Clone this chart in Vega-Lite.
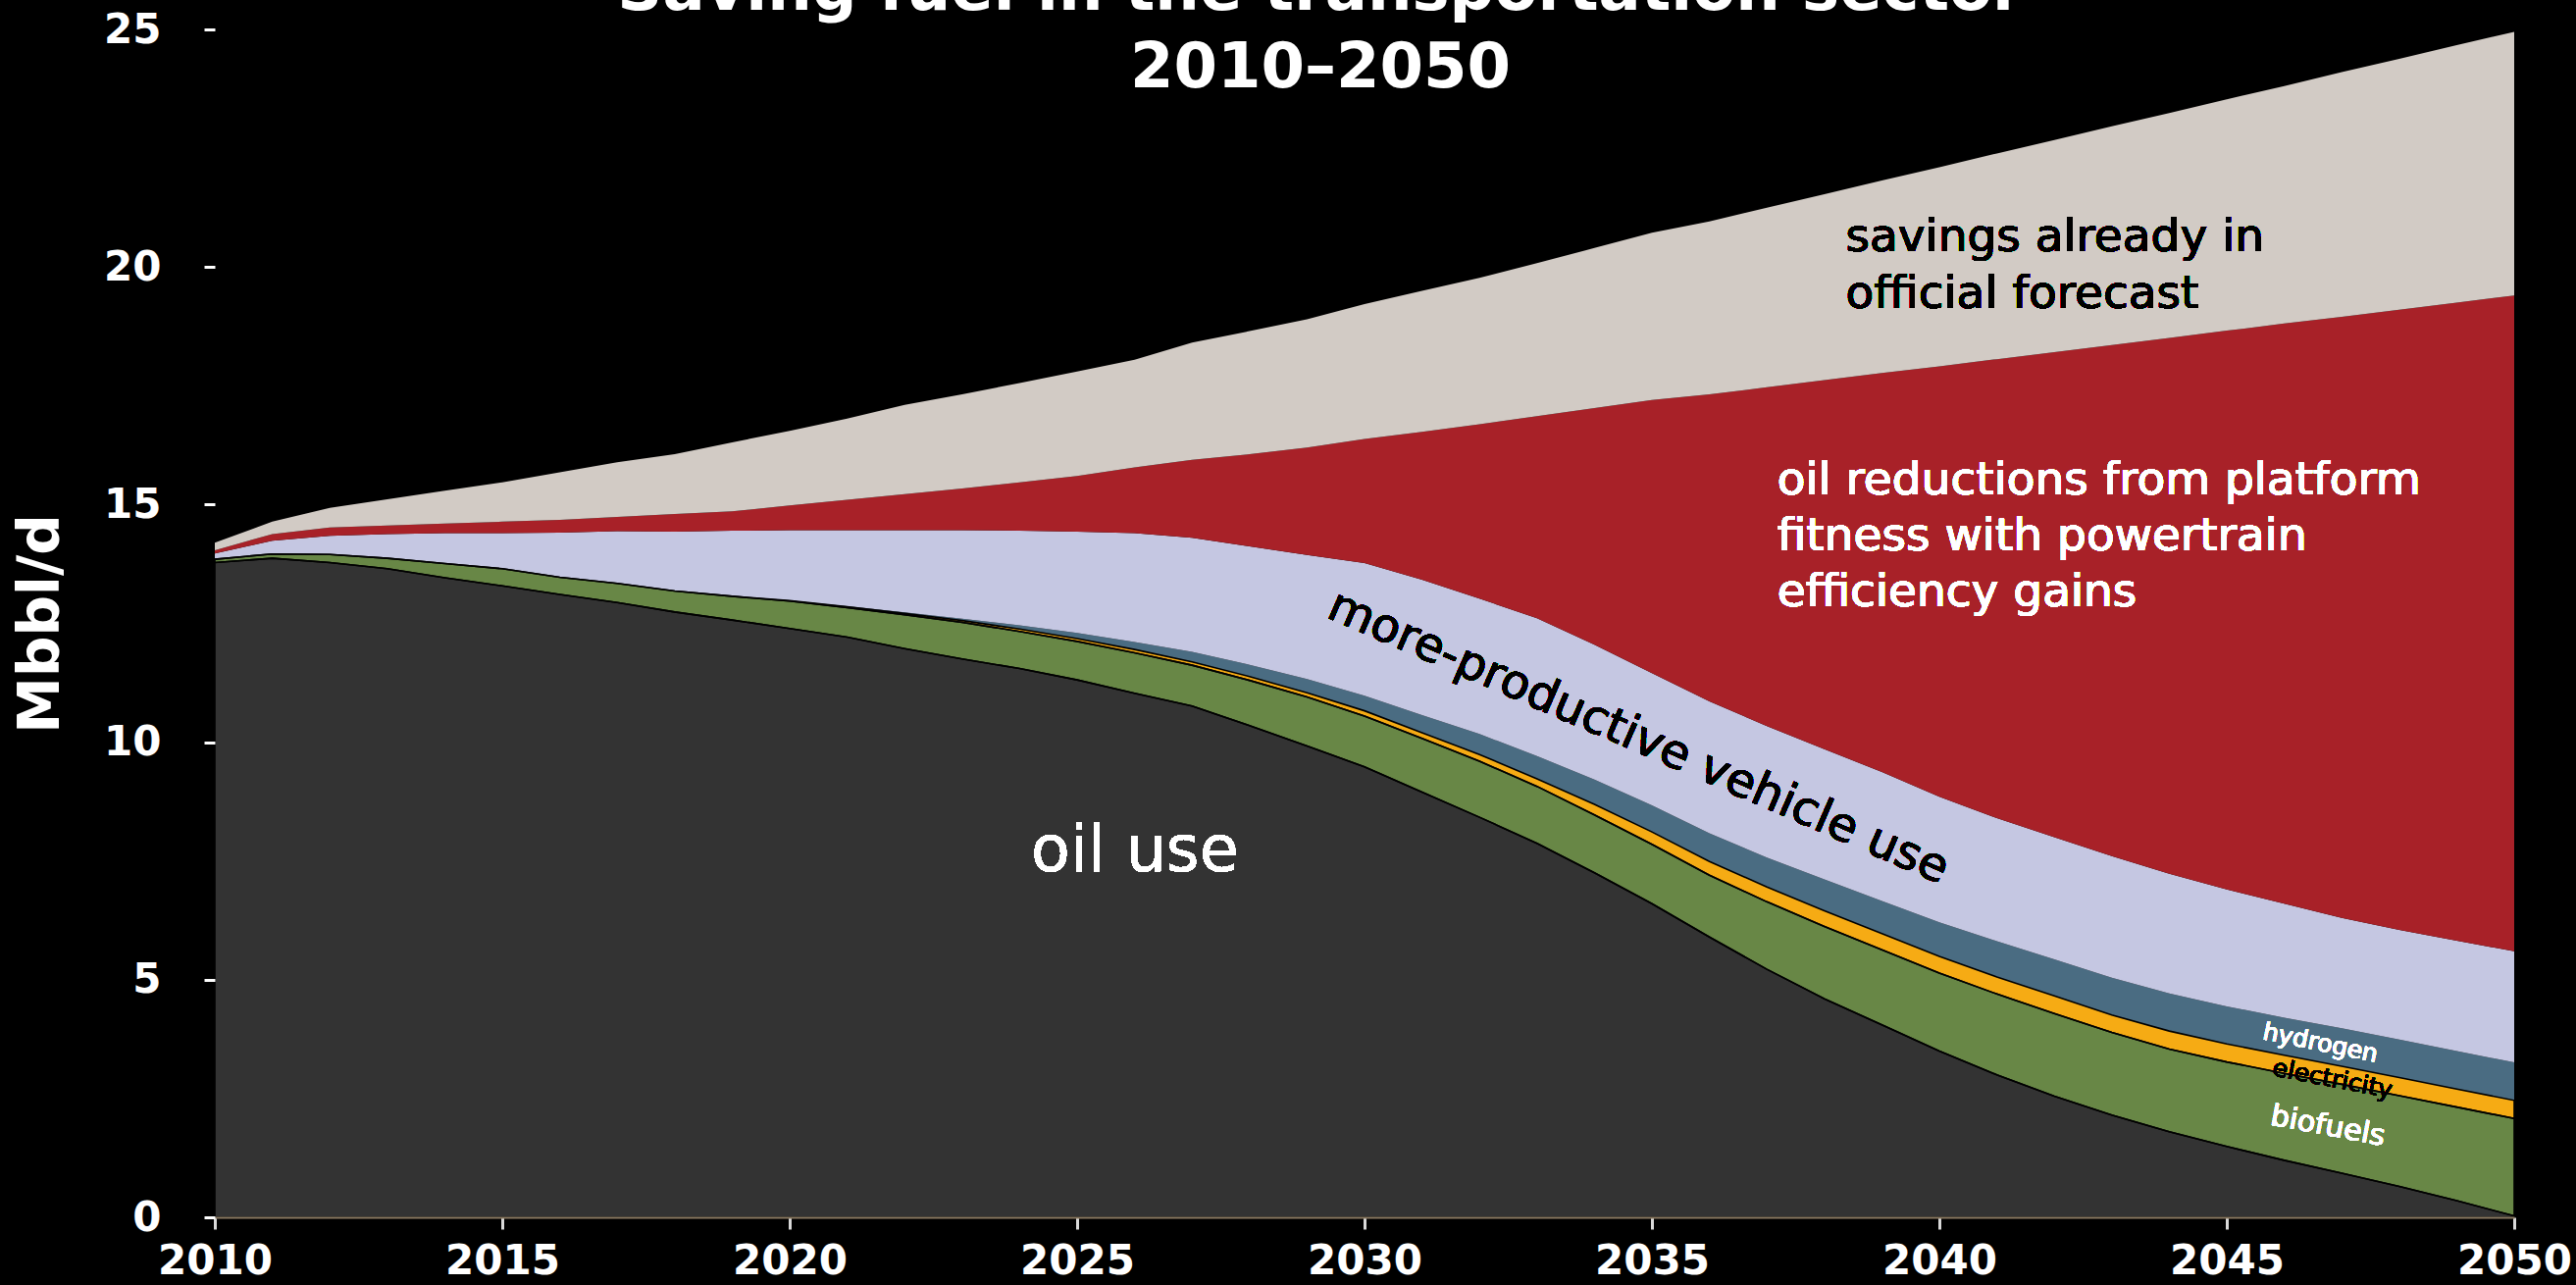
{
"$schema": "https://vega.github.io/schema/vega-lite/v6.json",
"width": 2344, "height": 1211,
"autosize": {"type": "none"},
"padding": {"left": 219, "top": 30, "right": 63, "bottom": 69},
"background": "black",
"title": {"text": ["Saving fuel in the transportation sector", "2010–2050"], "color": "white", "font": "DejaVu Sans", "fontWeight": "bold", "fontSize": 64, "lineHeight": 79, "anchor": "middle", "dx": -45, "baseline": "alphabetic", "offset": -144},
"config": {"view": {"stroke": null}},
"data": {"values": [
{"year":2010,"series":"oil","rank":1,"value":13.78},{"year":2010,"series":"biofuels","rank":2,"value":0.07},{"year":2010,"series":"electricity","rank":3,"value":0},{"year":2010,"series":"hydrogen","rank":4,"value":0},{"year":2010,"series":"productivity","rank":5,"value":0.12},{"year":2010,"series":"efficiency","rank":6,"value":0.07},{"year":2010,"series":"forecast","rank":7,"value":0.16},
{"year":2011,"series":"oil","rank":1,"value":13.87},{"year":2011,"series":"biofuels","rank":2,"value":0.09},{"year":2011,"series":"electricity","rank":3,"value":0},{"year":2011,"series":"hydrogen","rank":4,"value":0},{"year":2011,"series":"productivity","rank":5,"value":0.28},{"year":2011,"series":"efficiency","rank":6,"value":0.14},{"year":2011,"series":"forecast","rank":7,"value":0.26},
{"year":2012,"series":"oil","rank":1,"value":13.78},{"year":2012,"series":"biofuels","rank":2,"value":0.17},{"year":2012,"series":"electricity","rank":3,"value":0},{"year":2012,"series":"hydrogen","rank":4,"value":0},{"year":2012,"series":"productivity","rank":5,"value":0.39},{"year":2012,"series":"efficiency","rank":6,"value":0.18},{"year":2012,"series":"forecast","rank":7,"value":0.41},
{"year":2013,"series":"oil","rank":1,"value":13.65},{"year":2013,"series":"biofuels","rank":2,"value":0.22},{"year":2013,"series":"electricity","rank":3,"value":0},{"year":2013,"series":"hydrogen","rank":4,"value":0},{"year":2013,"series":"productivity","rank":5,"value":0.51},{"year":2013,"series":"efficiency","rank":6,"value":0.18},{"year":2013,"series":"forecast","rank":7,"value":0.55},
{"year":2014,"series":"oil","rank":1,"value":13.46},{"year":2014,"series":"biofuels","rank":2,"value":0.30},{"year":2014,"series":"electricity","rank":3,"value":0},{"year":2014,"series":"hydrogen","rank":4,"value":0},{"year":2014,"series":"productivity","rank":5,"value":0.64},{"year":2014,"series":"efficiency","rank":6,"value":0.20},{"year":2014,"series":"forecast","rank":7,"value":0.69},
{"year":2015,"series":"oil","rank":1,"value":13.29},{"year":2015,"series":"biofuels","rank":2,"value":0.36},{"year":2015,"series":"electricity","rank":3,"value":0},{"year":2015,"series":"hydrogen","rank":4,"value":0},{"year":2015,"series":"productivity","rank":5,"value":0.75},{"year":2015,"series":"efficiency","rank":6,"value":0.24},{"year":2015,"series":"forecast","rank":7,"value":0.83},
{"year":2016,"series":"oil","rank":1,"value":13.11},{"year":2016,"series":"biofuels","rank":2,"value":0.36},{"year":2016,"series":"electricity","rank":3,"value":0},{"year":2016,"series":"hydrogen","rank":4,"value":0},{"year":2016,"series":"productivity","rank":5,"value":0.94},{"year":2016,"series":"efficiency","rank":6,"value":0.27},{"year":2016,"series":"forecast","rank":7,"value":1.00},
{"year":2017,"series":"oil","rank":1,"value":12.94},{"year":2017,"series":"biofuels","rank":2,"value":0.40},{"year":2017,"series":"electricity","rank":3,"value":0},{"year":2017,"series":"hydrogen","rank":4,"value":0},{"year":2017,"series":"productivity","rank":5,"value":1.10},{"year":2017,"series":"efficiency","rank":6,"value":0.30},{"year":2017,"series":"forecast","rank":7,"value":1.15},
{"year":2018,"series":"oil","rank":1,"value":12.74},{"year":2018,"series":"biofuels","rank":2,"value":0.44},{"year":2018,"series":"electricity","rank":3,"value":0},{"year":2018,"series":"hydrogen","rank":4,"value":0},{"year":2018,"series":"productivity","rank":5,"value":1.25},{"year":2018,"series":"efficiency","rank":6,"value":0.37},{"year":2018,"series":"forecast","rank":7,"value":1.26},
{"year":2019,"series":"oil","rank":1,"value":12.57},{"year":2019,"series":"biofuels","rank":2,"value":0.50},{"year":2019,"series":"electricity","rank":3,"value":0},{"year":2019,"series":"hydrogen","rank":4,"value":0},{"year":2019,"series":"productivity","rank":5,"value":1.38},{"year":2019,"series":"efficiency","rank":6,"value":0.41},{"year":2019,"series":"forecast","rank":7,"value":1.45},
{"year":2020,"series":"oil","rank":1,"value":12.39},{"year":2020,"series":"biofuels","rank":2,"value":0.58},{"year":2020,"series":"electricity","rank":3,"value":0.01},{"year":2020,"series":"hydrogen","rank":4,"value":0},{"year":2020,"series":"productivity","rank":5,"value":1.48},{"year":2020,"series":"efficiency","rank":6,"value":0.52},{"year":2020,"series":"forecast","rank":7,"value":1.57},
{"year":2021,"series":"oil","rank":1,"value":12.21},{"year":2021,"series":"biofuels","rank":2,"value":0.62},{"year":2021,"series":"electricity","rank":3,"value":0.02},{"year":2021,"series":"hydrogen","rank":4,"value":0.01},{"year":2021,"series":"productivity","rank":5,"value":1.60},{"year":2021,"series":"efficiency","rank":6,"value":0.64},{"year":2021,"series":"forecast","rank":7,"value":1.71},
{"year":2022,"series":"oil","rank":1,"value":11.97},{"year":2022,"series":"biofuels","rank":2,"value":0.71},{"year":2022,"series":"electricity","rank":3,"value":0.03},{"year":2022,"series":"hydrogen","rank":4,"value":0.02},{"year":2022,"series":"productivity","rank":5,"value":1.73},{"year":2022,"series":"efficiency","rank":6,"value":0.76},{"year":2022,"series":"forecast","rank":7,"value":1.88},
{"year":2023,"series":"oil","rank":1,"value":11.75},{"year":2023,"series":"biofuels","rank":2,"value":0.77},{"year":2023,"series":"electricity","rank":3,"value":0.04},{"year":2023,"series":"hydrogen","rank":4,"value":0.04},{"year":2023,"series":"productivity","rank":5,"value":1.86},{"year":2023,"series":"efficiency","rank":6,"value":0.88},{"year":2023,"series":"forecast","rank":7,"value":1.98},
{"year":2024,"series":"oil","rank":1,"value":11.55},{"year":2024,"series":"biofuels","rank":2,"value":0.78},{"year":2024,"series":"electricity","rank":3,"value":0.05},{"year":2024,"series":"hydrogen","rank":4,"value":0.08},{"year":2024,"series":"productivity","rank":5,"value":1.99},{"year":2024,"series":"efficiency","rank":6,"value":1.02},{"year":2024,"series":"forecast","rank":7,"value":2.09},
{"year":2025,"series":"oil","rank":1,"value":11.31},{"year":2025,"series":"biofuels","rank":2,"value":0.81},{"year":2025,"series":"electricity","rank":3,"value":0.06},{"year":2025,"series":"hydrogen","rank":4,"value":0.12},{"year":2025,"series":"productivity","rank":5,"value":2.13},{"year":2025,"series":"efficiency","rank":6,"value":1.17},{"year":2025,"series":"forecast","rank":7,"value":2.20},
{"year":2026,"series":"oil","rank":1,"value":11.03},{"year":2026,"series":"biofuels","rank":2,"value":0.85},{"year":2026,"series":"electricity","rank":3,"value":0.07},{"year":2026,"series":"hydrogen","rank":4,"value":0.16},{"year":2026,"series":"productivity","rank":5,"value":2.29},{"year":2026,"series":"efficiency","rank":6,"value":1.38},{"year":2026,"series":"forecast","rank":7,"value":2.27},
{"year":2027,"series":"oil","rank":1,"value":10.76},{"year":2027,"series":"biofuels","rank":2,"value":0.86},{"year":2027,"series":"electricity","rank":3,"value":0.07},{"year":2027,"series":"hydrogen","rank":4,"value":0.21},{"year":2027,"series":"productivity","rank":5,"value":2.40},{"year":2027,"series":"efficiency","rank":6,"value":1.64},{"year":2027,"series":"forecast","rank":7,"value":2.47},
{"year":2028,"series":"oil","rank":1,"value":10.35},{"year":2028,"series":"biofuels","rank":2,"value":0.95},{"year":2028,"series":"electricity","rank":3,"value":0.08},{"year":2028,"series":"hydrogen","rank":4,"value":0.25},{"year":2028,"series":"productivity","rank":5,"value":2.49},{"year":2028,"series":"efficiency","rank":6,"value":1.94},{"year":2028,"series":"forecast","rank":7,"value":2.59},
{"year":2029,"series":"oil","rank":1,"value":9.92},{"year":2029,"series":"biofuels","rank":2,"value":1.03},{"year":2029,"series":"electricity","rank":3,"value":0.09},{"year":2029,"series":"hydrogen","rank":4,"value":0.29},{"year":2029,"series":"productivity","rank":5,"value":2.61},{"year":2029,"series":"efficiency","rank":6,"value":2.26},{"year":2029,"series":"forecast","rank":7,"value":2.70},
{"year":2030,"series":"oil","rank":1,"value":9.48},{"year":2030,"series":"biofuels","rank":2,"value":1.07},{"year":2030,"series":"electricity","rank":3,"value":0.11},{"year":2030,"series":"hydrogen","rank":4,"value":0.32},{"year":2030,"series":"productivity","rank":5,"value":2.79},{"year":2030,"series":"efficiency","rank":6,"value":2.61},{"year":2030,"series":"forecast","rank":7,"value":2.84},
{"year":2031,"series":"oil","rank":1,"value":8.95},{"year":2031,"series":"biofuels","rank":2,"value":1.13},{"year":2031,"series":"electricity","rank":3,"value":0.12},{"year":2031,"series":"hydrogen","rank":4,"value":0.37},{"year":2031,"series":"productivity","rank":5,"value":2.85},{"year":2031,"series":"efficiency","rank":6,"value":3.11},{"year":2031,"series":"forecast","rank":7,"value":2.97},
{"year":2032,"series":"oil","rank":1,"value":8.42},{"year":2032,"series":"biofuels","rank":2,"value":1.18},{"year":2032,"series":"electricity","rank":3,"value":0.14},{"year":2032,"series":"hydrogen","rank":4,"value":0.43},{"year":2032,"series":"productivity","rank":5,"value":2.85},{"year":2032,"series":"efficiency","rank":6,"value":3.67},{"year":2032,"series":"forecast","rank":7,"value":3.08},
{"year":2033,"series":"oil","rank":1,"value":7.87},{"year":2033,"series":"biofuels","rank":2,"value":1.20},{"year":2033,"series":"electricity","rank":3,"value":0.16},{"year":2033,"series":"hydrogen","rank":4,"value":0.48},{"year":2033,"series":"productivity","rank":5,"value":2.90},{"year":2033,"series":"efficiency","rank":6,"value":4.25},{"year":2033,"series":"forecast","rank":7,"value":3.22},
{"year":2034,"series":"oil","rank":1,"value":7.25},{"year":2034,"series":"biofuels","rank":2,"value":1.22},{"year":2034,"series":"electricity","rank":3,"value":0.22},{"year":2034,"series":"hydrogen","rank":4,"value":0.52},{"year":2034,"series":"productivity","rank":5,"value":2.84},{"year":2034,"series":"efficiency","rank":6,"value":4.98},{"year":2034,"series":"forecast","rank":7,"value":3.37},
{"year":2035,"series":"oil","rank":1,"value":6.60},{"year":2035,"series":"biofuels","rank":2,"value":1.25},{"year":2035,"series":"electricity","rank":3,"value":0.26},{"year":2035,"series":"hydrogen","rank":4,"value":0.56},{"year":2035,"series":"productivity","rank":5,"value":2.78},{"year":2035,"series":"efficiency","rank":6,"value":5.75},{"year":2035,"series":"forecast","rank":7,"value":3.52},
{"year":2036,"series":"oil","rank":1,"value":5.90},{"year":2036,"series":"biofuels","rank":2,"value":1.30},{"year":2036,"series":"electricity","rank":3,"value":0.29},{"year":2036,"series":"hydrogen","rank":4,"value":0.59},{"year":2036,"series":"productivity","rank":5,"value":2.78},{"year":2036,"series":"efficiency","rank":6,"value":6.46},{"year":2036,"series":"forecast","rank":7,"value":3.64},
{"year":2037,"series":"oil","rank":1,"value":5.22},{"year":2037,"series":"biofuels","rank":2,"value":1.42},{"year":2037,"series":"electricity","rank":3,"value":0.31},{"year":2037,"series":"hydrogen","rank":4,"value":0.62},{"year":2037,"series":"productivity","rank":5,"value":2.77},{"year":2037,"series":"efficiency","rank":6,"value":7.13},{"year":2037,"series":"forecast","rank":7,"value":3.78},
{"year":2038,"series":"oil","rank":1,"value":4.60},{"year":2038,"series":"biofuels","rank":2,"value":1.52},{"year":2038,"series":"electricity","rank":3,"value":0.33},{"year":2038,"series":"hydrogen","rank":4,"value":0.66},{"year":2038,"series":"productivity","rank":5,"value":2.74},{"year":2038,"series":"efficiency","rank":6,"value":7.77},{"year":2038,"series":"forecast","rank":7,"value":3.91},
{"year":2039,"series":"oil","rank":1,"value":4.05},{"year":2039,"series":"biofuels","rank":2,"value":1.58},{"year":2039,"series":"electricity","rank":3,"value":0.34},{"year":2039,"series":"hydrogen","rank":4,"value":0.69},{"year":2039,"series":"productivity","rank":5,"value":2.71},{"year":2039,"series":"efficiency","rank":6,"value":8.40},{"year":2039,"series":"forecast","rank":7,"value":4.05},
{"year":2040,"series":"oil","rank":1,"value":3.50},{"year":2040,"series":"biofuels","rank":2,"value":1.64},{"year":2040,"series":"electricity","rank":3,"value":0.35},{"year":2040,"series":"hydrogen","rank":4,"value":0.72},{"year":2040,"series":"productivity","rank":5,"value":2.64},{"year":2040,"series":"efficiency","rank":6,"value":9.06},{"year":2040,"series":"forecast","rank":7,"value":4.19},
{"year":2041,"series":"oil","rank":1,"value":3.00},{"year":2041,"series":"biofuels","rank":2,"value":1.70},{"year":2041,"series":"electricity","rank":3,"value":0.36},{"year":2041,"series":"hydrogen","rank":4,"value":0.75},{"year":2041,"series":"productivity","rank":5,"value":2.59},{"year":2041,"series":"efficiency","rank":6,"value":9.66},{"year":2041,"series":"forecast","rank":7,"value":4.33},
{"year":2042,"series":"oil","rank":1,"value":2.55},{"year":2042,"series":"biofuels","rank":2,"value":1.74},{"year":2042,"series":"electricity","rank":3,"value":0.37},{"year":2042,"series":"hydrogen","rank":4,"value":0.77},{"year":2042,"series":"productivity","rank":5,"value":2.57},{"year":2042,"series":"efficiency","rank":6,"value":10.21},{"year":2042,"series":"forecast","rank":7,"value":4.46},
{"year":2043,"series":"oil","rank":1,"value":2.15},{"year":2043,"series":"biofuels","rank":2,"value":1.74},{"year":2043,"series":"electricity","rank":3,"value":0.37},{"year":2043,"series":"hydrogen","rank":4,"value":0.78},{"year":2043,"series":"productivity","rank":5,"value":2.56},{"year":2043,"series":"efficiency","rank":6,"value":10.76},{"year":2043,"series":"forecast","rank":7,"value":4.60},
{"year":2044,"series":"oil","rank":1,"value":1.80},{"year":2044,"series":"biofuels","rank":2,"value":1.74},{"year":2044,"series":"electricity","rank":3,"value":0.38},{"year":2044,"series":"hydrogen","rank":4,"value":0.79},{"year":2044,"series":"productivity","rank":5,"value":2.52},{"year":2044,"series":"efficiency","rank":6,"value":11.28},{"year":2044,"series":"forecast","rank":7,"value":4.73},
{"year":2045,"series":"oil","rank":1,"value":1.49},{"year":2045,"series":"biofuels","rank":2,"value":1.78},{"year":2045,"series":"electricity","rank":3,"value":0.38},{"year":2045,"series":"hydrogen","rank":4,"value":0.79},{"year":2045,"series":"productivity","rank":5,"value":2.46},{"year":2045,"series":"efficiency","rank":6,"value":11.76},{"year":2045,"series":"forecast","rank":7,"value":4.87},
{"year":2046,"series":"oil","rank":1,"value":1.20},{"year":2046,"series":"biofuels","rank":2,"value":1.83},{"year":2046,"series":"electricity","rank":3,"value":0.38},{"year":2046,"series":"hydrogen","rank":4,"value":0.79},{"year":2046,"series":"productivity","rank":5,"value":2.40},{"year":2046,"series":"efficiency","rank":6,"value":12.21},{"year":2046,"series":"forecast","rank":7,"value":5.00},
{"year":2047,"series":"oil","rank":1,"value":0.93},{"year":2047,"series":"biofuels","rank":2,"value":1.87},{"year":2047,"series":"electricity","rank":3,"value":0.38},{"year":2047,"series":"hydrogen","rank":4,"value":0.80},{"year":2047,"series":"productivity","rank":5,"value":2.32},{"year":2047,"series":"efficiency","rank":6,"value":12.65},{"year":2047,"series":"forecast","rank":7,"value":5.15},
{"year":2048,"series":"oil","rank":1,"value":0.65},{"year":2048,"series":"biofuels","rank":2,"value":1.91},{"year":2048,"series":"electricity","rank":3,"value":0.38},{"year":2048,"series":"hydrogen","rank":4,"value":0.80},{"year":2048,"series":"productivity","rank":5,"value":2.31},{"year":2048,"series":"efficiency","rank":6,"value":13.05},{"year":2048,"series":"forecast","rank":7,"value":5.28},
{"year":2049,"series":"oil","rank":1,"value":0.35},{"year":2049,"series":"biofuels","rank":2,"value":1.97},{"year":2049,"series":"electricity","rank":3,"value":0.38},{"year":2049,"series":"hydrogen","rank":4,"value":0.80},{"year":2049,"series":"productivity","rank":5,"value":2.32},{"year":2049,"series":"efficiency","rank":6,"value":13.43},{"year":2049,"series":"forecast","rank":7,"value":5.42},
{"year":2050,"series":"oil","rank":1,"value":0.03},{"year":2050,"series":"biofuels","rank":2,"value":2.05},{"year":2050,"series":"electricity","rank":3,"value":0.38},{"year":2050,"series":"hydrogen","rank":4,"value":0.80},{"year":2050,"series":"productivity","rank":5,"value":2.34},{"year":2050,"series":"efficiency","rank":6,"value":13.80},{"year":2050,"series":"forecast","rank":7,"value":5.55}
]},
"layer": [
{"mark": {"type": "area"},
 "encoding": {
  "x": {"field": "year", "type": "quantitative", "scale": {"domain": [2010, 2050], "nice": false},
        "axis": {"title": null, "values": [2010,2015,2020,2025,2030,2035,2040,2045,2050], "format": "d", "labelFont": "DejaVu Sans", "labelFontWeight": "bold", "labelFontSize": 42, "labelColor": "white", "labelFlush": false, "labelOverlap": false, "labelPadding": 12, "domainColor": "#8a7a62", "domainWidth": 2, "tickColor": "#d9d9d9", "tickWidth": 3, "tickSize": 12, "grid": false, "zindex": 1}},
  "y": {"field": "value", "type": "quantitative", "stack": "zero", "scale": {"domain": [0, 25], "nice": false},
        "axis": {"title": "Mbbl/d", "titleFont": "DejaVu Sans", "titleFontWeight": "bold", "titleFontSize": 58, "titleColor": "white", "titlePadding": 34, "values": [0,5,10,15,20,25], "labelFont": "DejaVu Sans", "labelFontWeight": "bold", "labelFontSize": 42, "labelColor": "white", "labelPadding": 44, "domain": false, "tickColor": "white", "tickWidth": 3, "tickSize": 11, "grid": false, "zindex": 1}},
  "color": {"field": "series", "type": "nominal", "legend": null,
            "scale": {"domain": ["oil","biofuels","electricity","hydrogen","productivity","efficiency","forecast"], "range": ["#333333","#688746","#f6ab14","#4a6c82","#c5c7e2","#a82128","#d2cbc5"]}},
  "order": {"field": "rank", "type": "quantitative"}
 }},
{"transform": [{"filter": "datum.rank <= 3"}],
 "mark": {"type": "area", "fillOpacity": 0, "stroke": "black", "strokeWidth": 1.6},
 "encoding": {
  "x": {"field": "year", "type": "quantitative"},
  "y": {"field": "value", "type": "quantitative", "stack": "zero"},
  "detail": {"field": "series", "type": "nominal"},
  "order": {"field": "rank", "type": "quantitative"}
 }},
{"mark": {"type": "text", "text": ["savings already in", "official forecast"], "align": "left", "baseline": "alphabetic", "font": "DejaVu Sans", "fontSize": 47, "lineHeight": 58, "color": "black"},
 "encoding": {"x": {"datum": 2038.37, "type": "quantitative"}, "y": {"datum": 20.34, "type": "quantitative"}}},
{"mark": {"type": "text", "text": ["oil reductions from platform", "fitness with powertrain", "efficiency gains"], "align": "left", "baseline": "alphabetic", "font": "DejaVu Sans", "fontSize": 47, "lineHeight": 57, "color": "white"},
 "encoding": {"x": {"datum": 2037.18, "type": "quantitative"}, "y": {"datum": 15.21, "type": "quantitative"}}},
{"mark": {"type": "text", "text": "oil use", "align": "left", "baseline": "alphabetic", "font": "DejaVu Sans", "fontSize": 65, "color": "white"},
 "encoding": {"x": {"datum": 2024.2, "type": "quantitative"}, "y": {"datum": 7.29, "type": "quantitative"}}},
{"mark": {"type": "text", "text": "more-productive vehicle use", "align": "center", "baseline": "middle", "angle": 23.5, "font": "DejaVu Sans", "fontSize": 48, "color": "black"},
 "encoding": {"x": {"datum": 2034.76, "type": "quantitative"}, "y": {"datum": 10.09, "type": "quantitative"}}},
{"mark": {"type": "text", "text": "hydrogen", "align": "center", "baseline": "middle", "angle": 11.5, "font": "DejaVu Sans", "fontSize": 25, "color": "white"},
 "encoding": {"x": {"datum": 2046.63, "type": "quantitative"}, "y": {"datum": 3.67, "type": "quantitative"}}},
{"mark": {"type": "text", "text": "electricity", "align": "center", "baseline": "middle", "angle": 11, "font": "DejaVu Sans", "fontSize": 25, "color": "black"},
 "encoding": {"x": {"datum": 2046.84, "type": "quantitative"}, "y": {"datum": 2.91, "type": "quantitative"}}},
{"mark": {"type": "text", "text": "biofuels", "align": "center", "baseline": "middle", "angle": 10.5, "font": "DejaVu Sans", "fontSize": 30, "color": "white"},
 "encoding": {"x": {"datum": 2046.76, "type": "quantitative"}, "y": {"datum": 1.91, "type": "quantitative"}}}
]
}
